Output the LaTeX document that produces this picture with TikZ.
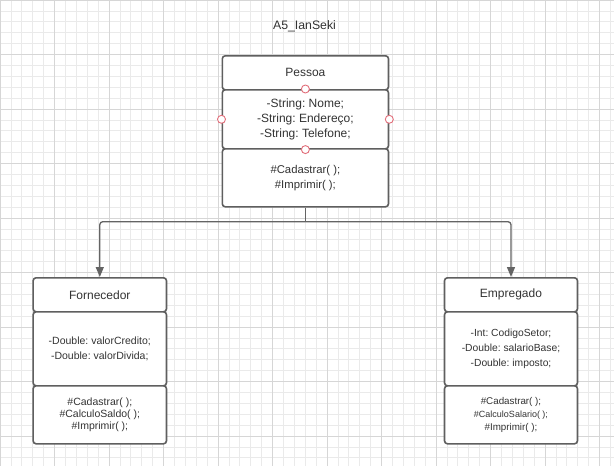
\documentclass[tikz,border=0pt]{standalone}
\usepackage{fontspec}
\setmainfont{Liberation Sans}
\frenchspacing
\usetikzlibrary{arrows.meta}
\definecolor{gridminor}{RGB}{234,234,234}
\definecolor{gridmajor}{RGB}{214,214,214}
\definecolor{boxline}{RGB}{95,95,95}
\definecolor{connline}{RGB}{100,100,100}
\definecolor{txt}{RGB}{51,51,51}
\definecolor{portred}{RGB}{226,110,122}
\tikzset{
  compartment/.style={draw=boxline, line width=1.6pt, fill=white, rounded corners=3pt,
    inner sep=0pt, anchor=north west, align=center, text=txt},
  f12/.style={font=\fontsize{12}{15}\selectfont},
  f11/.style={font=\fontsize{11.3}{15}\selectfont},
  f105/.style={font=\fontsize{10.5}{14.3}\selectfont},
  f105m/.style={font=\fontsize{10.5}{12}\selectfont},
  f10/.style={font=\fontsize{10.3}{15.3}\selectfont},
  f95/.style={font=\fontsize{9.8}{13.3}\selectfont},
  conn/.style={draw=connline, line width=1.3pt, rounded corners=3pt},
  port/.style={circle, draw=portred, fill=white, line width=0.9pt, minimum size=8pt, inner sep=0pt},
}
\begin{document}
\begin{tikzpicture}[x=1pt, y=-1pt]
\useasboundingbox (0,0) rectangle (614,466);
\fill[white] (0,0) rectangle (614,466);
% background grid
\foreach \i in {0,...,56} {
  \draw[gridminor, line width=0.8pt] ({\i*10.9},0) -- ({\i*10.9},466);
}
\foreach \j in {0,...,42} {
  \draw[gridminor, line width=0.8pt] (0,{\j*10.9}) -- (614,{\j*10.9});
}
\foreach \i in {0,...,11} {
  \draw[gridmajor, line width=0.8pt] ({\i*54.5},0) -- ({\i*54.5},466);
}
\foreach \j in {0,...,8} {
  \draw[gridmajor, line width=0.8pt] (0,{\j*54.5}) -- (614,{\j*54.5});
}

% title
\node[text=txt, font=\fontsize{12.3}{15}\selectfont] (title) at (304.5,26) {A5\_IanSeki};

% class Pessoa
\node[compartment, f12, minimum width=166.2pt, minimum height=34pt] (pName) at (221.5,55) {Pessoa};
\node[compartment, f12, minimum width=166.2pt, minimum height=59pt] (pAttr) at (221.5,89)
  {-String: Nome;\\-String: Endereço;\\-String: Telefone;};
\node[compartment, f11, minimum width=166.2pt, minimum height=58pt] (pOps) at (221.5,148)
  {\#Cadastrar( );\\\#Imprimir( );};

% class Fornecedor
\node[compartment, f12, minimum width=133.4pt, minimum height=34pt] (fName) at (32.3,277) {Fornecedor};
\node[compartment, f105, minimum width=133.4pt, minimum height=74pt] (fAttr) at (32.3,311)
  {-Double: valorCredito;\\-Double: valorDivida;};
\node[compartment, f105m, minimum width=133.4pt, minimum height=58pt] (fOps) at (32.3,385)
  {\#Cadastrar( );\\\#CalculoSaldo( );\\\#Imprimir( );};

% class Empregado
\node[compartment, f12, minimum width=133pt, minimum height=34pt] (eName) at (443.7,277) {Empregado};
\node[compartment, f10, minimum width=133pt, minimum height=74pt] (eAttr) at (443.7,311)
  {-Int: CodigoSetor;\\-Double: salarioBase;\\-Double: imposto;};
\node[compartment, f95, minimum width=133pt, minimum height=58pt] (eOps) at (443.7,385)
  {\#Cadastrar( );\\{\fontsize{9}{13.3}\selectfont\#CalculoSalario( );}\\\#Imprimir( );};

% inheritance connectors
\coordinate (junction) at (pOps.south |- 0,221.7);
\draw[conn] (pOps.south) -- (junction);
\draw[conn, -{Triangle[width=8pt,length=10pt]}] (junction) -| (fName.north);
\draw[conn, -{Triangle[width=8pt,length=10pt]}] (junction) -| (eName.north);

% connection points on the attribute compartment
\node[port] (pt1) at (pAttr.north) {};
\node[port] (pt2) at (pAttr.south) {};
\node[port] (pt3) at (pAttr.west) {};
\node[port] (pt4) at (pAttr.east) {};
\end{tikzpicture}
\end{document}
